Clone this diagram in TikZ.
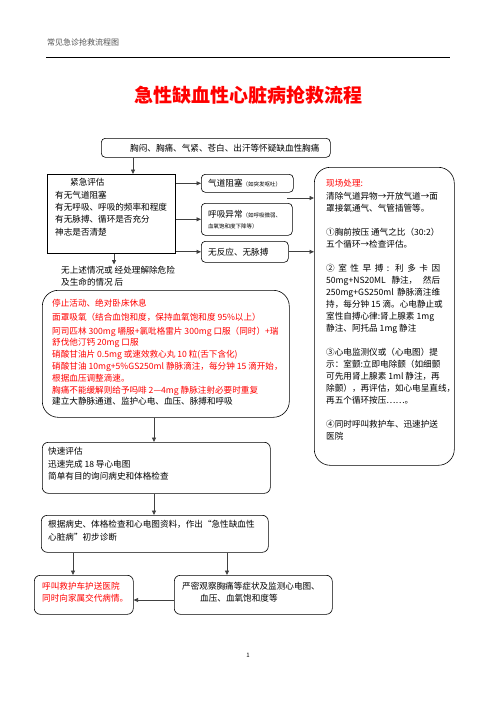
\documentclass[tikz,border=0pt]{standalone}
\usepackage{fontspec}
\setmainfont{Noto Sans CJK SC}
\usetikzlibrary{arrows.meta}
\definecolor{jred}{RGB}{255,0,0}
\definecolor{hgray}{RGB}{80,80,80}
\tikzset{
  box/.style={draw, line width=0.6pt, rounded corners=4pt, inner sep=0pt, anchor=north west},
  bigbox/.style={box, rounded corners=16pt},
  txt/.style={inner sep=0pt, anchor=north west, align=left, font=\fontsize{8.6}{12}\selectfont},
  small/.style={font=\fontsize{5.5}{7}\selectfont},
  arr/.style={-{Triangle[length=4.5pt,width=4pt]}, line width=0.8pt, black!75},
}
\newcommand{\tinytxt}[1]{{\fontsize{5.5}{7}\selectfont #1}}
\begin{document}
\begin{tikzpicture}[x=1pt,y=-1pt]
\useasboundingbox (0,0) rectangle (496,702);

% Header
\node[txt, anchor=west, text=hgray, font=\fontsize{8}{10}\selectfont] (head) at (47,42) {常见急诊抢救流程图};
\draw[line width=0.7pt] (46,57) -- (450,57);
\node[inner sep=0pt, text=jred, font=\fontsize{19}{22}\selectfont\bfseries] (title) at (248,95) {急性缺血性心脏病抢救流程};

% Boxes
\node[box, minimum width=229pt, minimum height=19pt] (top) at (101,138) {};
\node[box, rounded corners=0pt, minimum width=128pt, minimum height=79pt] (eval) at (47,174) {};
\node[box, minimum width=92pt, minimum height=18pt] (air) at (201,174) {};
\node[box, minimum width=91pt, minimum height=32pt] (breath) at (201,203) {};
\node[box, minimum width=87pt, minimum height=21pt] (pulse) at (201,241) {};
\node[bigbox, minimum width=140pt, minimum height=298pt] (scene) at (314,167) {};
\node[bigbox, minimum width=247pt, minimum height=127pt] (drug) at (42,290) {};
\node[box, rounded corners=6pt, minimum width=228pt, minimum height=51pt] (quick) at (42,442) {};
\node[box, rounded corners=6pt, minimum width=227pt, minimum height=37pt] (diag) at (41,515) {};
\node[box, rounded corners=6pt, minimum width=99pt, minimum height=39pt] (call) at (34,575) {};
\node[box, rounded corners=6pt, minimum width=158pt, minimum height=39pt] (watch) at (174,575) {};

% Texts
\node[txt, anchor=west] (topt) at (130,148) {胸闷、胸痛、气紧、苍白、出汗等怀疑缺血性胸痛};
\node[txt, font=\fontsize{8.6}{12.3}\selectfont] (evalt) at (55,178.5) {\hspace*{15pt}紧急评估\\有无气道阻塞\\有无呼吸、呼吸的频率和程度\\有无脉搏、循环是否充分\\神志是否清楚};
\node[txt, anchor=west] (airt) at (208,183) {气道阻塞\tinytxt{（如突发呕吐）}};
\node[txt] (breatht) at (208,210.5) {呼吸异常\tinytxt{（如呼吸微弱、}\\[-1pt]\tinytxt{血氧饱和度下降等）}};
\node[txt, anchor=west] (pulset) at (208,252) {无反应、无脉搏};
\node[txt] (cond) at (61,266.5) {无上述情况或 经处理解除危险\\及生命的情况 后};
\node[txt] (scenet) at (326,179.5) {{\color{jred}现场处理:}\\[1pt]
清除气道异物→开放气道→面\\
罩接氧通气、气管插管等。\\[12pt]
①胸前按压 通气之比（30:2）\\
五个循环→检查评估。\\[12pt]
\makebox[114pt][s]{② 室 性 早 搏 : 利 多 卡 因}\\
\makebox[114pt][s]{50mg+NS20ML 静注， 然后}\\
\makebox[114pt][s]{250mg+GS250ml 静脉滴注维}\\
持，每分钟 15 滴。心电静止或\\
室性自搏心律:肾上腺素 1mg\\
静注、阿托品 1mg 静注\\[12pt]
③心电监测仪或（心电图）提\\
示：室颤:立即电除颤（如细颤\\
可先用肾上腺素 1ml 静注，再\\
除颤），再评估，如心电呈直线，\\
再五个循环按压……。\\[12pt]
④同时呼叫救护车、迅速护送\\
医院};
\node[txt, text=jred, font=\fontsize{8.6}{11.8}\selectfont] (drugt) at (52,298.5) {停止活动、绝对卧床休息\\[2.2pt]
面罩吸氧（结合血饱和度，保持血氧饱和度 95\%以上）\\[2.2pt]
阿司匹林 300mg 嚼服+氯吡格雷片 300mg 口服（同时）+瑞\\
舒伐他汀钙 20mg 口服\\
硝酸甘油片 0.5mg 或速效救心丸 10 粒(舌下含化)\\
硝酸甘油 10mg+5\%GS250ml 静脉滴注，每分钟 15 滴开始，\\
根据血压调整滴速。\\
胸痛不能缓解则给予吗啡 2—4mg 静脉注射必要时重复\\
{\color{black}建立大静脉通道、监护心电、血压、脉搏和呼吸}};
\node[txt, font=\fontsize{8.6}{12.5}\selectfont] (quickt) at (48,447.5) {快速评估\\迅速完成 18 导心电图\\简单有目的询问病史和体格检查};
\node[txt, font=\fontsize{8.6}{13}\selectfont] (diagt) at (48,520.5) {根据病史、体格检查和心电图资料，作出“急性缺血性\\心脏病”初步诊断};
\node[txt, text=jred] (callt) at (42,581.5) {呼叫救护车护送医院\\同时向家属交代病情。};
\node[txt] (watcht) at (182,581.5) {严密观察胸痛等症状及监测心电图、\\\hspace*{18pt}血压、血氧饱和度等};
\node[inner sep=0pt, font=\fontsize{6}{7}\selectfont] (page) at (248,655) {1};

% Arrows
\coordinate (xa) at (133,0);
\coordinate (xb) at (114,0);
\coordinate (xc) at (154,0);
\coordinate (xd) at (73,0);
\coordinate (xe) at (227,0);
\coordinate (ya) at (287,198);
\coordinate (yb) at (0,600);
\draw[arr] (xa |- top.south) -- (xa |- eval.north);
\draw[arr] (eval.east |- air.west) -- (air.west);
\draw[arr] (eval.east |- breath.west) -- (breath.west);
\draw[arr] (eval.east |- pulse.west) -- (pulse.west);
\draw[arr] (ya) -- (ya -| scene.west);
\draw[arr] (pulse.east) -- (pulse.east -| scene.west);
\draw[arr, shorten >=2pt] (xb |- eval.south) -- (xb |- cond.north);
\draw[arr] (xc |- drug.south) -- (xc |- quick.north);
\draw[arr] (xc |- quick.south) -- (xc |- diag.north);
\draw[arr] (xd |- diag.south) -- (xd |- call.north);
\draw[arr] (xe |- diag.south) -- (xe |- watch.north);
\draw[arr] (yb -| watch.west) -- (yb -| call.east);

\end{tikzpicture}
\end{document}
